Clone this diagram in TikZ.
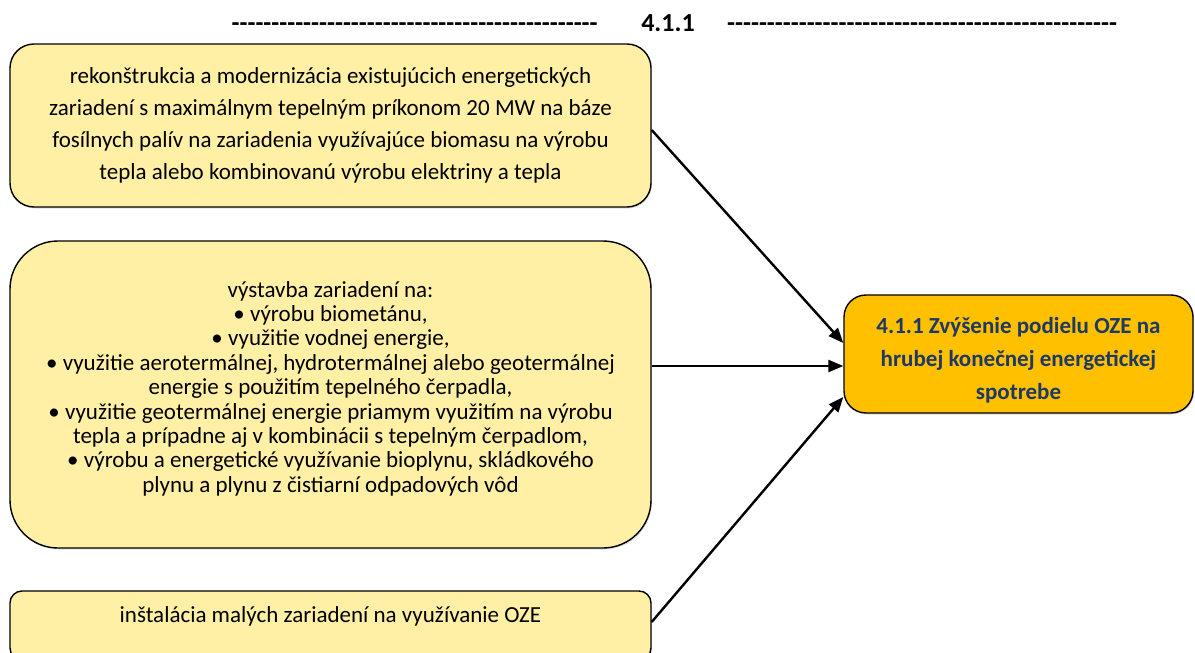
\documentclass[tikz,border=0pt]{standalone}
\usepackage{fontspec}
\setmainfont{Carlito}
\usetikzlibrary{arrows.meta,shadows}
\definecolor{paleyellow}{HTML}{FFF0A5}
\definecolor{gold}{HTML}{FFC000}
\definecolor{navy}{HTML}{1F3864}
% a run of single hyphens, kept apart so that they never join into dashes
\newcommand\hyphrun[1]{\foreach \i in {1,...,#1}{\hbox{-}}}
\begin{document}
\begin{tikzpicture}[x=1pt,y=-1pt,
  srcbox/.style={draw=black, line width=1.4pt, fill=paleyellow, align=center,
    inner sep=0pt, minimum width=641pt,
    drop shadow={opacity=0.25, shadow xshift=1pt, shadow yshift=-1.5pt}},
  goalbox/.style={draw=black, line width=1.4pt, fill=gold,
    inner sep=0pt, minimum width=349pt, minimum height=118pt, rounded corners=22pt,
    drop shadow={opacity=0.25, shadow xshift=1pt, shadow yshift=-1.5pt}},
  goaltxt/.style={text=navy, align=center, inner sep=0pt,
    font=\bfseries\fontsize{23}{33}\selectfont},
  srctxt/.style={align=center, inner sep=0pt},
  headtxt/.style={inner sep=0pt, font=\bfseries\fontsize{26}{30}\selectfont},
  conn/.style={line width=2.4pt, -{Triangle[length=15pt,width=12pt]}}]
\useasboundingbox (0,0) rectangle (1195,653);
\clip (0,0) rectangle (1195,653);

% heading
\node[headtxt, anchor=base east] (hl) at (598,31) {\hyphrun{46}};
\node[headtxt, anchor=base] (hn) at (668,31) {4.1.1};
\node[headtxt, anchor=base west] (hr) at (727,31) {\hyphrun{49}};

% measures
\node[srcbox, minimum height=163pt, rounded corners=24pt,
      font=\fontsize{23}{32}\selectfont] (m1) at (330.5,125.5)
  {rekonštrukcia a modernizácia existujúcich energetických\\
   zariadení s maximálnym tepelným príkonom 20 MW na báze\\
   fosílnych palív na zariadenia využívajúce biomasu na výrobu\\
   tepla alebo kombinovanú výrobu elektriny a tepla};

\node[srcbox, minimum height=307pt, rounded corners=48pt] (m2) at (330.5,394.5) {};
\node[srctxt, font=\fontsize{23}{24.4}\selectfont] (m2t) at ([yshift=6pt]m2.center)
  {výstavba zariadení na:\\
   • výrobu biometánu,\\
   • využitie vodnej energie,\\
   • využitie aerotermálnej, hydrotermálnej alebo geotermálnej\\
   energie s použitím tepelného čerpadla,\\
   • využitie geotermálnej energie priamym využitím na výrobu\\
   tepla a prípadne aj v kombinácii s tepelným čerpadlom,\\
   • výrobu a energetické využívanie bioplynu, skládkového\\
   plynu a plynu z čistiarní odpadových vôd};

\node[srcbox, rounded corners=12pt, text height=31pt, text depth=38pt,
      font=\fontsize{23}{24.4}\selectfont, anchor=base] (m3) at (330.5,622)
  {inštalácia malých zariadení na využívanie OZE};

% objective
\node[goalbox] (goal) at (1018.5,354) {};
\node[goaltxt] (goalt) at ([yshift=-6pt]goal.center)
  {4.1.1 Zvýšenie podielu OZE na\\ hrubej konečnej energetickej\\ spotrebe};

% links
\draw[conn] ([yshift=-4.5pt]m1.east) -- ([yshift=11pt]goal.west);
\draw[conn] ([yshift=28.5pt]m2.east) -- ([yshift=-12pt]goal.west);
\draw[conn] ([yshift=3.5pt]m3.east) -- ([yshift=-43pt]goal.west);
\end{tikzpicture}
\end{document}
